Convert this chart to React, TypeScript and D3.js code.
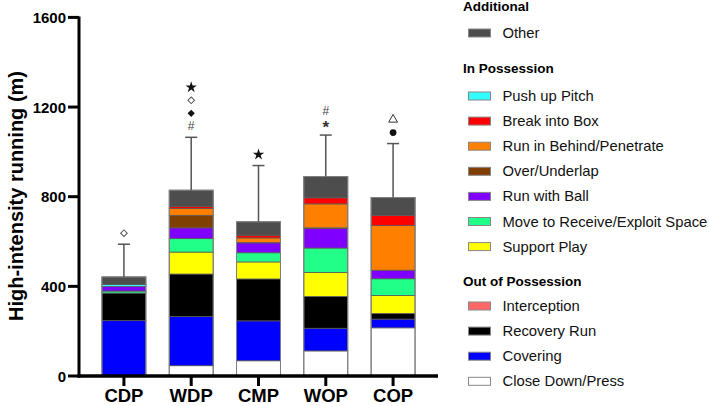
import React from "react";
import * as d3 from "d3";

const categories = ["CDP", "WDP", "CMP", "WOP", "COP"];

// stacked series, bottom to top
const closeDown = [0, 46, 68, 112, 215];
const covering = [247, 219, 178, 101, 39];
const recoveryRun = [123, 190, 187, 142, 25];
const interception = [0, 0, 0, 0, 0];
const supportPlay = [0, 98, 76, 107, 80];
const moveToReceive = [9, 60, 41, 109, 75];
const runWithBall = [21, 48, 44, 87, 38];
const overUnderlap = [0, 56, 2, 3, 0];
const runInBehind = [0, 30, 20, 107, 199];
const breakIntoBox = [0, 10, 12, 27, 46];
const pushUpPitch = [8, 0, 0, 0, 0];
const other = [34, 72, 60, 95, 79];

const errorSD = [146, 236, 251, 185, 241];
const annotations = [["odiamond"], ["star", "odiamond", "diamond", "#"], ["star"], ["#", "*"], ["triangle", "circle"]];

const yTicks = [0, 400, 800, 1200, 1600];

const seriesNames = [
  "Close Down/Press", "Covering", "Recovery Run", "Interception",
  "Support Play", "Move to Receive/Exploit Space", "Run with Ball", "Over/Underlap",
  "Run in Behind/Penetrate", "Break into Box", "Push up Pitch", "Other",
];
const seriesValues = [
  closeDown, covering, recoveryRun, interception, supportPlay, moveToReceive,
  runWithBall, overUnderlap, runInBehind, breakIntoBox, pushUpPitch, other,
];
const seriesColors = [
  "#ffffff", "#0000ff", "#000000", "#ff6666", "#ffff00", "#22ff88",
  "#8000ff", "#7f3f00", "#ff8000", "#ff0000", "#33ffff", "#4d4d4d",
];

const legendGroups = [
  { title: "Additional", items: ["Other"] },
  { title: "In Possession", items: ["Push up Pitch", "Break into Box", "Run in Behind/Penetrate", "Over/Underlap", "Run with Ball", "Move to Receive/Exploit Space", "Support Play"] },
  { title: "Out of Possession", items: ["Interception", "Recovery Run", "Covering", "Close Down/Press"] },
];

const FONT = "'Liberation Sans', Arial, sans-serif";

function Marker({ kind, cx, cy }: { kind: string; cx: number; cy: number }) {
  if (kind === "#") {
    return <text x={cx} y={cy} textAnchor="middle" dominantBaseline="central" fontFamily={FONT} fontSize={12} fill="#444">#</text>;
  }
  if (kind === "*") {
    return <text x={cx} y={cy + 3} textAnchor="middle" dominantBaseline="central" fontFamily={FONT} fontWeight="bold" fontSize={17} fill="#333">*</text>;
  }
  let path = "";
  let fill = "#111";
  let stroke = "none";
  let rot = 0;
  if (kind === "star") path = d3.symbol(d3.symbolStar, 40)()!;
  if (kind === "circle") path = d3.symbol(d3.symbolCircle, 36)()!;
  if (kind === "diamond") { path = d3.symbol(d3.symbolSquare, 26)()!; rot = 45; }
  if (kind === "odiamond") { path = d3.symbol(d3.symbolSquare, 22)()!; rot = 45; fill = "none"; stroke = "#555"; }
  if (kind === "triangle") { path = d3.symbol(d3.symbolTriangle, 34)()!; fill = "none"; stroke = "#333"; }
  return <path d={path} transform={`translate(${cx},${cy}) rotate(${rot})`} fill={fill} stroke={stroke} strokeWidth={1} />;
}

export default function App() {
  const W = 709, H = 406;
  const x0 = 79, x1 = 438, yBase = 376, yTop = 17.4;
  const x = d3.scaleBand<string>().domain(categories).range([x0, x1]).paddingInner(0.347).paddingOuter(0.341);
  const y = d3.scaleLinear().domain([0, 1600]).range([yBase, yTop]);

  const table = categories.map((c, i) => {
    const row: Record<string, any> = { cat: c };
    seriesNames.forEach((s, k) => (row[s] = seriesValues[k][i]));
    return row;
  });
  const stacked = d3.stack<any>().keys(seriesNames)(table);
  const totals = categories.map((_, i) => d3.sum(seriesValues, (s) => s[i]));

  const legendRows: { type: string; label: string; y: number }[] = [];
  let ly = 6;
  legendGroups.forEach((g, gi) => {
    if (gi === 1) ly = 68;
    if (gi === 2) ly = 281;
    legendRows.push({ type: "h", label: g.title, y: ly });
    let iy = ly + (gi === 0 ? 27 : 28);
    if (gi === 2) iy = ly + 25;
    g.items.forEach((it) => {
      legendRows.push({ type: "i", label: it, y: iy });
      iy += 25.1;
    });
  });

  return (
    <div style={{ position: "absolute", left: 0, top: 0 }}>
      <svg width={W} height={H} style={{ display: "block", background: "#fff" }}>
        {stacked.map((layer, k) => (
          <g key={layer.key}>
            {layer.map((d, i) => {
              const h = y(d[0]) - y(d[1]);
              if (h <= 0) return null;
              return (
                <rect key={i} x={x(categories[i])!} y={y(d[1])} width={x.bandwidth()} height={h}
                  fill={seriesColors[k]} stroke="#5a5a5a" strokeWidth={0.8} />
              );
            })}
          </g>
        ))}
        {categories.map((c, i) => (
          <rect key={c} x={x(c)!} y={y(totals[i])} width={x.bandwidth()} height={yBase - y(totals[i])}
            fill="none" stroke="#808080" strokeWidth={1} />
        ))}
        {categories.map((c, i) => {
          const cx = x(c)! + x.bandwidth() / 2;
          const top = y(totals[i] + errorSD[i]);
          return (
            <g key={c} stroke="#555" strokeWidth={1.5}>
              <line x1={cx} x2={cx} y1={y(totals[i])} y2={top} />
              <line x1={cx - 6} x2={cx + 6} y1={top} y2={top} />
            </g>
          );
        })}
        {categories.map((c, i) => {
          const cx = x(c)! + x.bandwidth() / 2;
          const top = y(totals[i] + errorSD[i]);
          const syms = annotations[i];
          return syms.map((s, j) => {
            const yy = top - 11 - (syms.length - 1 - j) * 13;
            return <Marker key={c + j} kind={s} cx={cx} cy={yy} />;
          });
        })}
        <line x1={x0} x2={x0} y1={yTop - 1} y2={yBase + 1.5} stroke="#000" strokeWidth={3} />
        <line x1={x0 - 1.5} x2={x1} y1={yBase} y2={yBase} stroke="#000" strokeWidth={3.5} />
        {yTicks.map((t) => (
          <g key={t}>
            <line x1={68} x2={x0} y1={y(t)} y2={y(t)} stroke="#000" strokeWidth={3} />
            <text x={66} y={y(t)} textAnchor="end" dominantBaseline="central" fontFamily={FONT}
              fontWeight="bold" fontSize={15} fill="#000">{t}</text>
          </g>
        ))}
        {categories.map((c) => {
          const cx = x(c)! + x.bandwidth() / 2;
          return (
            <g key={c}>
              <line x1={cx} x2={cx} y1={yBase} y2={yBase + 10} stroke="#000" strokeWidth={3} />
              <text x={cx} y={402} textAnchor="middle" fontFamily={FONT} fontWeight="bold"
                fontSize={18.5} fill="#000">{c}</text>
            </g>
          );
        })}
        <text transform={`translate(23,196) rotate(-90)`} textAnchor="middle" fontFamily={FONT}
          fontWeight="bold" fontSize={20} fill="#000">High-intensity running (m)</text>
        {legendRows.map((r, i) => {
          if (r.type === "h") {
            return (
              <text key={i} x={463} y={r.y} dominantBaseline="central" fontFamily={FONT}
                fontWeight="bold" fontSize={13.5} fill="#000">{r.label}</text>
            );
          }
          const k = seriesNames.indexOf(r.label);
          return (
            <g key={i}>
              <rect x={468.5} y={r.y - 4} width={22} height={8} fill={seriesColors[k]} stroke="#888" strokeWidth={1} />
              <text x={502.5} y={r.y} dominantBaseline="central" fontFamily={FONT}
                fontSize={14.8} fill="#111">{r.label}</text>
            </g>
          );
        })}
      </svg>
    </div>
  );
}
